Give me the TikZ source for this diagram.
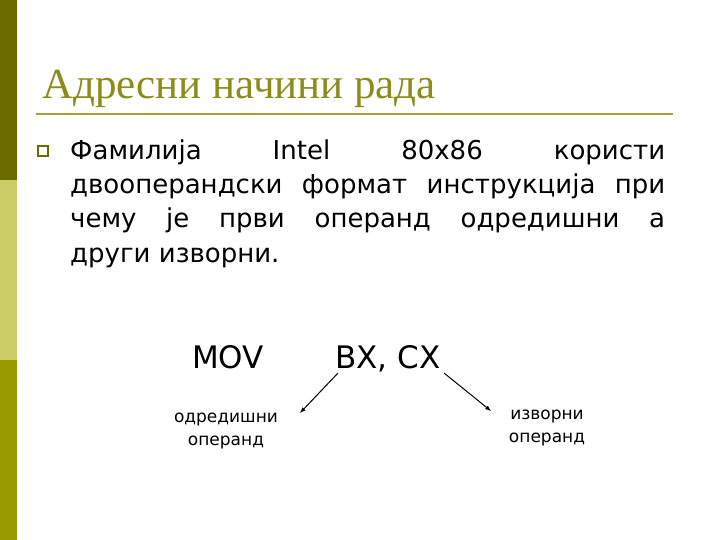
\documentclass[tikz,border=0pt]{standalone}
\usepackage{fontspec}
\setmainfont{DejaVu Sans}
\newfontfamily\titlefont{Liberation Serif}
\definecolor{olivedark}{HTML}{6B6B00}
\definecolor{olivelight}{HTML}{CCCC66}
\definecolor{olivemid}{HTML}{999900}
\definecolor{titlecol}{HTML}{8C8C1A}
\definecolor{rulecol}{HTML}{A3A33A}
\newcommand{\jline}[1]{\hbox to 595pt{#1}}
\begin{document}
\begin{tikzpicture}[x=1pt,y=-1pt,
  body/.style={anchor=base west,inner sep=0pt,font=\fontsize{26}{30}\selectfont},
  small/.style={align=center,inner sep=0pt,font=\fontsize{17}{23}\selectfont},
  big/.style={anchor=base west,inner sep=0pt,font=\fontsize{31}{34}\selectfont}]
\useasboundingbox (0,0) rectangle (720,540);
\fill[white] (0,0) rectangle (720,540);
\fill[olivedark] (0,0) rectangle (17,180);
\fill[olivelight] (0,180) rectangle (17,360);
\fill[olivemid] (0,360) rectangle (17,540);
\node[anchor=base west,inner sep=0pt,text=titlecol,font=\titlefont\fontsize{43}{46}\selectfont] (title) at (42,99) {Адресни начини рада};
\draw[rulecol,line width=2pt] (36,114) -- (673,114);
\node[draw=olivedark,line width=2pt,minimum size=10pt,inner sep=0pt] (bul) at (43,151) {};
\node[body] (l1) at (70,160) {\jline{Фамилија\hfill Intel\hfill 80x86\hfill користи}};
\node[body] (l2) at (70,194) {\jline{двооперандски\hfill формат\hfill инструкција\hfill при}};
\node[body] (l3) at (70,228) {\jline{чему\hfill је\hfill први\hfill операнд\hfill одредишни\hfill а}};
\node[body] (l4) at (70,262) {други изворни.};
\node[big] (mov) at (192,368) {MOV};
\node[big] (bx) at (335,368) {BX, CX};
\node[small] (dst) at (226,431) {одредишни\\операнд};
\node[small] (src) at (547,428) {изворни\\операнд};
\coordinate (a1) at (338,373); \coordinate (a2) at (300,413);
\coordinate (b1) at (444,373); \coordinate (b2) at (491,411);
\draw[-latex,line width=1pt] (a1) -- (a2);
\draw[-latex,line width=1pt] (b1) -- (b2);
\end{tikzpicture}
\end{document}
